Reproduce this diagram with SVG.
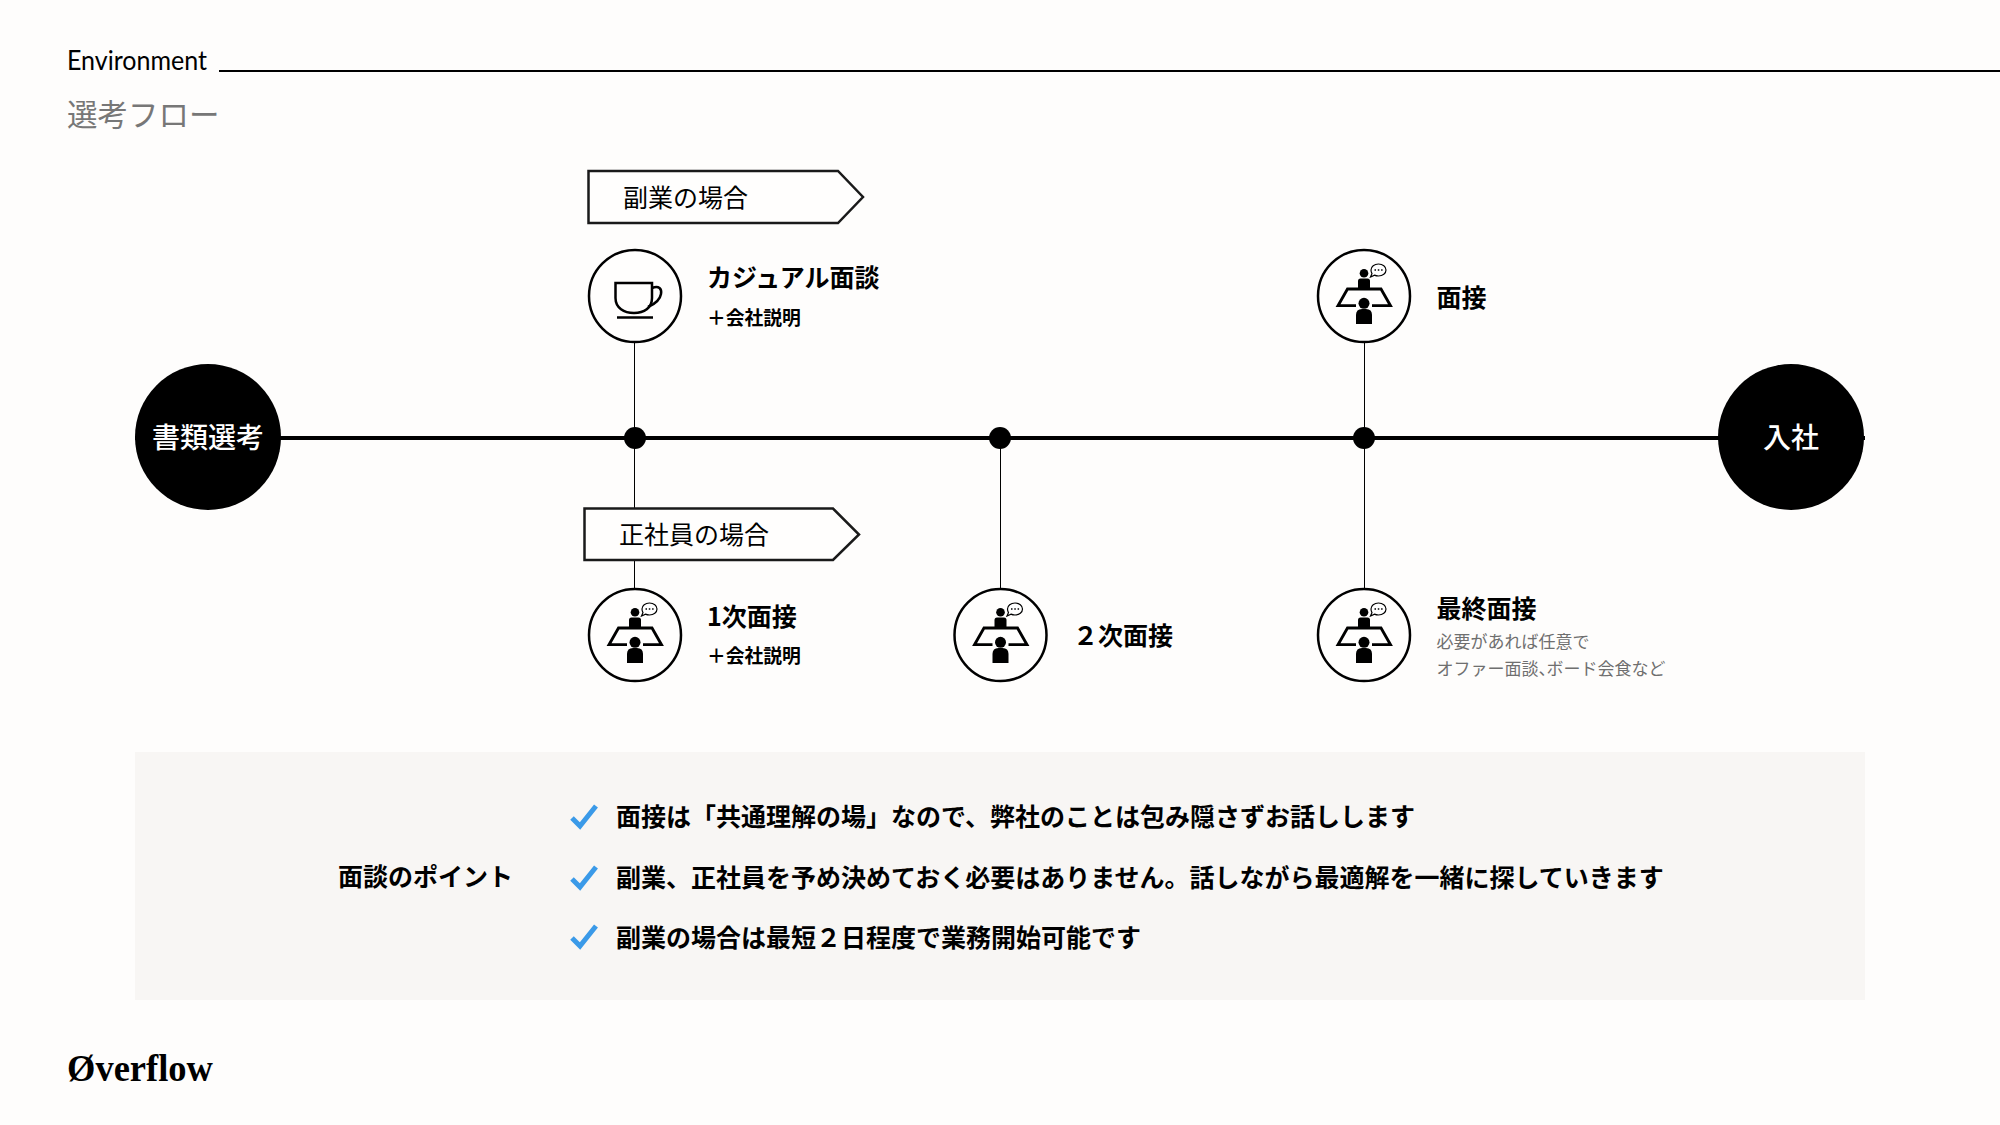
<svg xmlns="http://www.w3.org/2000/svg" xmlns:xlink="http://www.w3.org/1999/xlink" width="2000" height="1125" viewBox="0 0 2000 1125">
<style>
text{font-family:"Noto Sans CJK JP","Noto Sans",sans-serif;fill:#000}
.h{font-size:25px;font-weight:700}
.s{font-size:18.800px;font-weight:700}
.t{font-size:25px;font-weight:400}
.g{font-size:17px;fill:#6f6f6f}
.p{font-size:25px;font-weight:700}
.w{font-size:28px;fill:#fff;font-weight:500;text-anchor:middle}
.ring{fill:#fffefd;stroke:#000;stroke-width:2.500}
.tag{fill:#fffefd;stroke:#1a1a1a;stroke-width:2.500}
.thin{stroke:#000;stroke-width:1;fill:none}
.chk{fill:none;stroke:#3b9ae8;stroke-width:5}
.lat{font-family:"Lato","Liberation Sans",sans-serif}
</style>
<defs>
<g id="meet">
<circle r="46" class="ring"/>
<circle cx="0" cy="-22.700" r="4.300"/>
<path d="M-6-8V-15q0-2.500 2.500-2.500H3.500q2.500 0 2.500 2.500V-8z"/>
<path d="M-8 9.700H-26L-16.500-7H17L26.500 9.700H8" fill="none" stroke="#000" stroke-width="2.800"/>
<circle cy="7.300" r="5.500"/>
<path d="M-8 28V19q0-6 6-6h4q6 0 6 6v9z"/>
<path d="M7-26c0-3.500 3.300-6 7.500-6s7.500 2.500 7.500 6-3.300 6-7.500 6c-1.500 0-2.900-.3-4-.9l-4 1.900 1.500-3.400c-.6-1-1-2.200-1-3.600z" fill="#fff" stroke="#000" stroke-width="1.200"/>
<path d="M10.500-26h1.500M13.800-26h1.500M17.100-26h1.500" stroke="#000" stroke-width="1.300"/>
</g>
<polyline id="c" points="0,12 8,20 24,0" class="chk"/>
</defs>
<rect width="2000" height="1125" fill="#fefdfc"/>

<g id="header">
<text x="67" y="70" class="lat" font-size="26" font-weight="400" textLength="140" lengthAdjust="spacingAndGlyphs">Environment</text>
<rect x="219" y="70" width="1781" height="2" fill="#000"/>
<text x="67" y="125.500" font-size="30.500" style="fill:#777">選考フロー</text>
</g>

<g id="connectors">
<line x1="135" y1="438" x2="1865" y2="438" stroke="#000" stroke-width="4"/>
<line x1="634.500" y1="343" x2="634.500" y2="590" class="thin"/>
<line x1="1000.500" y1="437" x2="1000.500" y2="590" class="thin"/>
<line x1="1364.500" y1="343" x2="1364.500" y2="590" class="thin"/>
</g>

<g id="dots">
<circle cx="635" cy="438" r="11"/>
<circle cx="1000" cy="438" r="11"/>
<circle cx="1364" cy="438" r="11"/>
</g>

<g id="node-shorui"><circle cx="208" cy="437" r="73"/><text x="208" y="447.500" class="w">書類選考</text></g>
<g id="node-nyusha"><circle cx="1791" cy="437" r="73"/><text x="1791" y="447.500" class="w">入社</text></g>

<g id="tag-fukugyo"><path d="M588.500 171H838L863 197 838 223H588.500z" class="tag"/><text x="623" y="207" class="t">副業の場合</text></g>
<g id="tag-seishain"><path d="M584.500 508.500H833L859 534.500 833 560H584.500z" class="tag"/><text x="619" y="544" class="t">正社員の場合</text></g>

<g id="node-casual">
<circle cx="635" cy="296" r="46" class="ring"/>
<path d="M615.500 283H652V298C652 308 644 313 634 313S615.500 308 615.500 298Z" fill="none" stroke="#000" stroke-width="2.500"/>
<path d="M652 288C659 285 662 289 661 294 660 300 655 304 648 307" fill="none" stroke="#000" stroke-width="2.500"/>
<line x1="617" y1="317.500" x2="653" y2="317.500" stroke="#000" stroke-width="2.500"/>
<text x="707" y="287" class="h">カジュアル面談</text>
<text x="707" y="324.500" class="s">＋会社説明</text>
</g>
<g id="node-first">
<use xlink:href="#meet" href="#meet" x="635" y="635"/>
<text x="707" y="625.500" class="h">1次面接</text>
<text x="707" y="662.500" class="s">＋会社説明</text>
</g>
<g id="node-second">
<use xlink:href="#meet" href="#meet" x="1000.500" y="635"/>
<text x="1073" y="645" class="h">２次面接</text>
</g>
<g id="node-interview">
<use xlink:href="#meet" href="#meet" x="1364" y="296"/>
<text x="1436.500" y="307" class="h">面接</text>
</g>
<g id="node-final">
<use xlink:href="#meet" href="#meet" x="1364" y="635"/>
<text x="1436.500" y="618" class="h">最終面接</text>
<text x="1436.500" y="648" class="g">必要があれば任意で</text>
<text x="1436.500" y="675" class="g">オファー面談、<tspan dx="-9">ボード会食など</tspan></text>
</g>

<g id="points">
<rect x="135" y="752" width="1730" height="248" fill="#f8f6f4"/>
<text x="338" y="886" class="p">面談のポイント</text>
<use xlink:href="#c" href="#c" x="572" y="806"/>
<use xlink:href="#c" href="#c" x="572" y="867"/>
<use xlink:href="#c" href="#c" x="572" y="926"/>
<text x="616" y="826" class="p">面接は「共通理解の場」なので、弊社のことは包み隠さずお話しします</text>
<text x="616" y="886.500" class="p">副業、正社員を予め決めておく必要はありません。話しながら最適解を一緒に探していきます</text>
<text x="616" y="947" class="p">副業の場合は最短２日程度で業務開始可能です</text>
</g>

<g id="logo"><text x="67" y="1081" font-size="38" font-weight="700" style="font-family:'Liberation Serif',serif" textLength="146" lengthAdjust="spacingAndGlyphs">Øverflow</text></g>
</svg>
